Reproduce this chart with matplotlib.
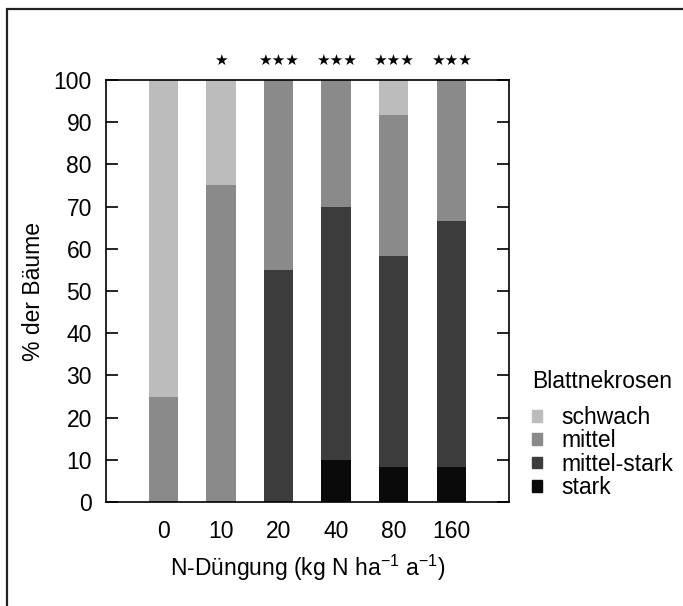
import matplotlib
matplotlib.use('Agg')
import matplotlib.pyplot as plt
from matplotlib.patches import Patch, Rectangle
import numpy as np

plt.rcParams['font.family'] = ['Liberation Sans', 'DejaVu Sans']

doses = ['0', '10', '20', '40', '80', '160']
stark = [0, 0, 0, 10, 8.3, 8.3]
mittel_stark = [0, 0, 55, 60, 50, 58.3]
mittel = [25, 75, 45, 30, 33.4, 33.4]
schwach = [75, 25, 0, 0, 8.3, 0]
signif = ['', '★', '★★★', '★★★', '★★★', '★★★']

colors = {'stark': '#0a0a0a', 'mittel-stark': '#3c3c3c',
          'mittel': '#8a8a8a', 'schwach': '#bcbcbc'}

fig = plt.figure(figsize=(6.83, 6.06), dpi=100)
ax = fig.add_axes([0.155, 0.1716, 0.59, 0.6964])

x = np.arange(len(doses))
w = 0.51
bottom = np.zeros(len(doses))
for name, vals in [('stark', stark), ('mittel-stark', mittel_stark),
                   ('mittel', mittel), ('schwach', schwach)]:
    ax.bar(x, vals, w, bottom=bottom, color=colors[name], linewidth=0)
    bottom += np.array(vals)

for xi, s in zip(x, signif):
    ax.text(xi, 104.6, s, ha='center', va='center', fontsize=11,
            family='DejaVu Sans', clip_on=False)

ax.set_xlim(-1, 6)
ax.set_ylim(0, 100)
ax.set_yticks(range(0, 101, 10))
ax.set_xticks(x)
ax.set_xticklabels(doses)
ax.tick_params(axis='y', direction='in', length=8.5, width=1.2, labelsize=16.5,
               right=True, pad=10)
ax.tick_params(axis='x', length=0, labelsize=16.5, pad=13)
for sp in ax.spines.values():
    sp.set_linewidth(1.2)

ax.set_ylabel('% der Bäume', fontsize=16.5, labelpad=6)
ax.set_xlabel('N-Düngung (kg N ha$^{\\mathregular{-1}}$ a$^{\\mathregular{-1}}$)',
              fontsize=16.5, labelpad=7)

labels = ['schwach', 'mittel', 'mittel-stark', 'stark']
handles = [Patch(color=colors[n]) for n in labels]
leg = fig.legend(handles, labels, title='Blattnekrosen', loc='upper left',
                 bbox_to_anchor=(0.779, 0.389), frameon=False, fontsize=16.5,
                 title_fontsize=16.5, handlelength=0.42, handleheight=0.42,
                 handletextpad=0.85, labelspacing=0.02, alignment='left',
                 borderaxespad=0, borderpad=0)
leg._legend_box.sep = 9

# outer frame
fig.add_artist(Rectangle((7 / 683, -0.2), 1.5, 1 - 9 / 606 + 0.2,
                         transform=fig.transFigure, fill=False,
                         linewidth=1.6, edgecolor='#222222'))

fig.savefig('out.png', dpi=100)
